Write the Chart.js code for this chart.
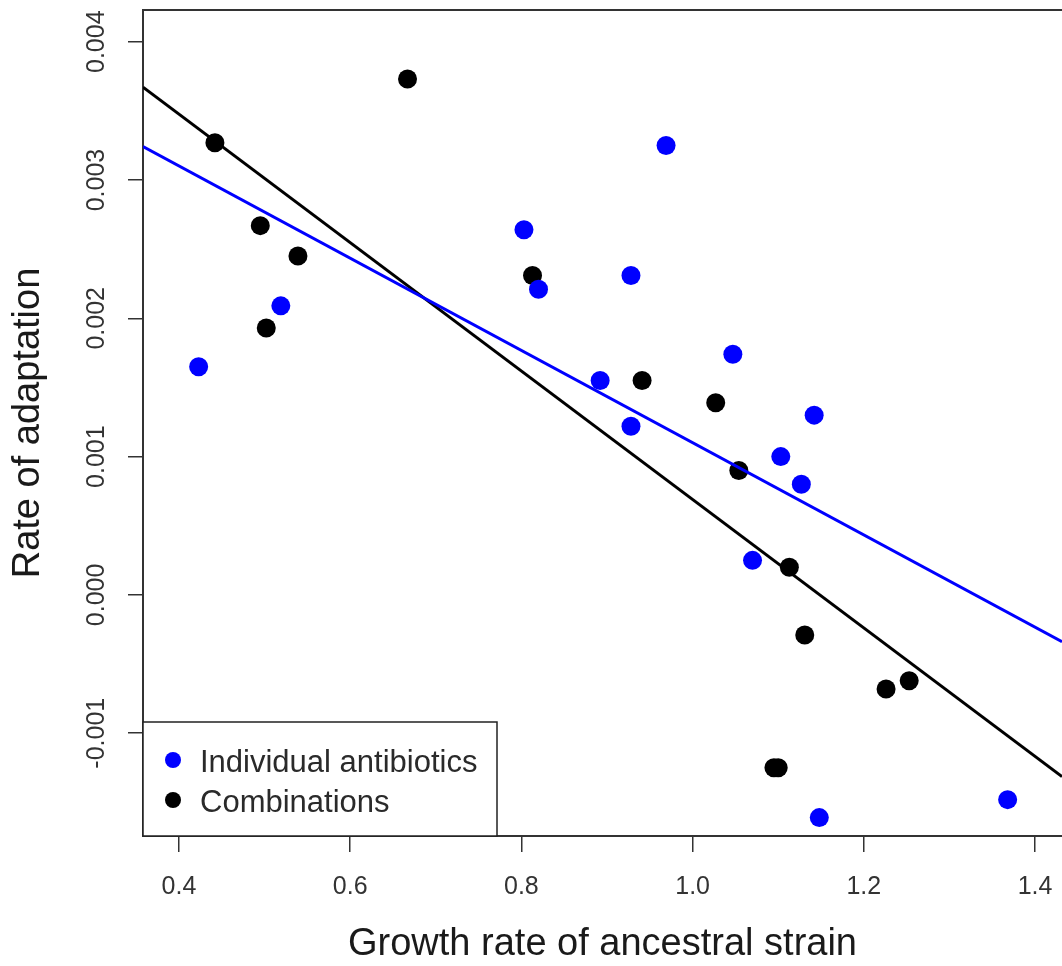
<!DOCTYPE html>
<html>
<head>
<meta charset="utf-8">
<script src="https://cdn.jsdelivr.net/npm/chart.js@4.4.1/dist/chart.umd.min.js"></script>
<style>
  html, body { margin: 0; padding: 0; background: #fff; overflow: hidden; }
  canvas { display: block; }
</style>
</head>
<body>
<canvas id="adapt" width="1062" height="966"></canvas>
<script>
// values
const blueX = [0.423, 0.519, 0.803, 0.820, 0.892, 0.928, 0.928, 0.969, 1.047, 1.070, 1.103, 1.127, 1.142, 1.148, 1.368];
const blueY = [0.00165, 0.00209, 0.00264, 0.00221, 0.00155, 0.00231, 0.00122, 0.00325, 0.00174, 0.00025, 0.00100, 0.00080, 0.00130, -0.00161, -0.00148];
const blackX = [0.442, 0.495, 0.502, 0.539, 0.667, 0.813, 0.941, 1.027, 1.054, 1.095, 1.100, 1.113, 1.131, 1.226, 1.253];
const blackY = [0.00327, 0.00267, 0.00193, 0.00245, 0.00373, 0.00231, 0.00155, 0.00139, 0.00090, -0.00125, -0.00125, 0.00020, -0.00029, -0.00068, -0.00062];

// fitted lines, end points at the plot edges
const fitX = [0.358, 1.4315];
const blueFitY = [0.003242, -0.000338];
const blackFitY = [0.003671, -0.001314];

const xTicks = [0.4, 0.6, 0.8, 1.0, 1.2, 1.4];
const yTicks = [-0.001, 0, 0.001, 0.002, 0.003, 0.004];
const seriesLabels = ['Individual antibiotics', 'Combinations'];

const FONT = "'Liberation Sans', Arial, sans-serif";
const pts = (xs, ys) => xs.map((x, i) => ({ x: x, y: ys[i] }));

// rotated y tick labels, top border and the legend box (R style)
const rStyle = {
    id: 'rStyle',
    afterDraw(chart) {
        const ctx = chart.ctx;
        const area = chart.chartArea;
        const ys = chart.scales.y;
        ctx.save();

        // y tick labels, read bottom to top
        ctx.fillStyle = '#333';
        ctx.font = '25px ' + FONT;
        ctx.textAlign = 'center';
        ctx.textBaseline = 'middle';
        yTicks.forEach(v => {
            ctx.save();
            ctx.translate(97, ys.getPixelForValue(v));
            ctx.rotate(-Math.PI / 2);
            ctx.fillText(v.toFixed(3), 0, 0);
            ctx.restore();
        });

        // box around plot
        ctx.strokeStyle = '#333';
        ctx.lineWidth = 2;
        ctx.beginPath();
        ctx.moveTo(area.left, area.top);
        ctx.lineTo(area.right, area.top);
        ctx.stroke();

        // legend
        const lx = area.left, ly = 722, lw = 354, lh = area.bottom - 722;
        ctx.fillStyle = '#fff';
        ctx.fillRect(lx, ly, lw, lh);
        ctx.strokeStyle = '#222';
        ctx.lineWidth = 1.5;
        ctx.strokeRect(lx, ly, lw, lh);
        const rows = [760, 800];
        const cols = [chart.data.datasets[2].backgroundColor, chart.data.datasets[3].backgroundColor];
        ctx.font = '31px ' + FONT;
        ctx.textAlign = 'left';
        ctx.textBaseline = 'alphabetic';
        rows.forEach((ry, i) => {
            ctx.fillStyle = cols[i];
            ctx.beginPath();
            ctx.arc(173, ry, 8, 0, Math.PI * 2);
            ctx.fill();
            ctx.fillStyle = '#2a2a2a';
            ctx.fillText(seriesLabels[i], 200, ry + 12);
        });
        ctx.restore();
    }
};

new Chart(document.getElementById('adapt'), {
    type: 'scatter',
    data: {
        datasets: [
            {
                type: 'line',
                label: 'fit individual',
                data: pts(fitX, blueFitY),
                borderColor: '#0000ff',
                borderWidth: 3,
                pointRadius: 0,
                fill: false
            },
            {
                type: 'line',
                label: 'fit combinations',
                data: pts(fitX, blackFitY),
                borderColor: '#000',
                borderWidth: 3,
                pointRadius: 0,
                fill: false
            },
            {
                label: seriesLabels[0],
                data: pts(blueX, blueY),
                backgroundColor: '#0000ff',
                borderWidth: 0,
                pointRadius: 9.5
            },
            {
                label: seriesLabels[1],
                data: pts(blackX, blackY),
                backgroundColor: '#000',
                borderWidth: 0,
                pointRadius: 9.5
            }
        ]
    },
    options: {
        responsive: false,
        animation: false,
        layout: { autoPadding: false, padding: { top: 10, right: 0, bottom: 0, left: 0 } },
        plugins: {
            legend: { display: false },
            tooltip: { enabled: false }
        },
        scales: {
            x: {
                type: 'linear',
                min: 0.358,
                max: 1.4315,
                afterBuildTicks: s => { s.ticks = xTicks.map(v => ({ value: v })); },
                afterFit: s => { s.height = 130; s.paddingLeft = 0; s.paddingRight = 0; },
                grid: { drawOnChartArea: false, drawTicks: true, tickLength: 16, color: '#333', lineWidth: 1.5 },
                border: { display: true, color: '#333', width: 2 },
                ticks: {
                    color: '#333',
                    font: { family: FONT, size: 25 },
                    padding: 20,
                    maxRotation: 0,
                    callback: v => Number(v).toFixed(1)
                },
                title: {
                    display: true,
                    text: 'Growth rate of ancestral strain',
                    color: '#1a1a1a',
                    font: { family: FONT, size: 38, lineHeight: 1 },
                    padding: { top: 0, bottom: 2 }
                }
            },
            y: {
                type: 'linear',
                min: -0.001743,
                max: 0.0042292,
                afterBuildTicks: s => { s.ticks = yTicks.map(v => ({ value: v })); },
                afterFit: s => { s.width = 143; s.paddingTop = 0; s.paddingBottom = 0; },
                grid: { drawOnChartArea: false, drawTicks: true, tickLength: 15, color: '#333', lineWidth: 1.5 },
                border: { display: true, color: '#333', width: 2 },
                ticks: { display: false },
                title: {
                    display: true,
                    text: 'Rate of adaptation',
                    color: '#1a1a1a',
                    font: { family: FONT, size: 38, lineHeight: 1 },
                    padding: { top: 10, bottom: 0 }
                }
            }
        }
    },
    plugins: [rStyle]
});
</script>
</body>
</html>
